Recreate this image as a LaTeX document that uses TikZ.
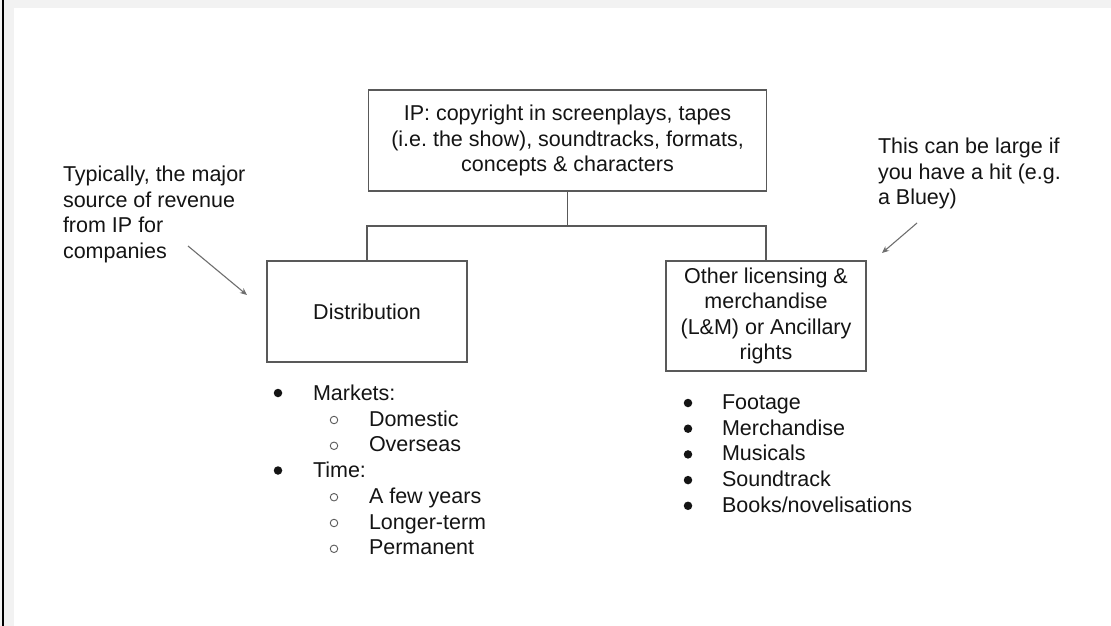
\documentclass[tikz,border=0pt]{standalone}
\usepackage{fontspec}
\setmainfont{Liberation Sans}
\usetikzlibrary{arrows.meta}
\definecolor{ink}{HTML}{141414}
\definecolor{edge}{HTML}{595959}
\definecolor{arrowgray}{HTML}{6E6E6E}
\definecolor{band}{HTML}{F2F2F2}
\frenchspacing
\begin{document}
\begin{tikzpicture}[x=1pt,y=-1pt,
  txt/.style={inner sep=0pt, outer sep=0pt, font=\frenchspacing\fontsize{21.5}{25.5}\selectfont, text=ink},
  boxnode/.style={txt, draw=edge, line width=1.3pt, align=center},
  link/.style={draw=edge, line width=1.3pt},
  note/.style={txt, align=left, anchor=north west},
  pointer/.style={draw=arrowgray, line width=1.1pt, -{Stealth[length=7pt,width=6pt]}},
  item/.style={txt, anchor=base west},
  dot/.style={circle, fill=ink, inner sep=0pt, minimum size=8.5pt},
  ring/.style={circle, draw=ink!70, line width=0.9pt, inner sep=0pt, minimum size=7.5pt}]
\useasboundingbox (0,0) rectangle (1111,626);
\fill[white] (0,0) rectangle (1111,626);
% frame bands
\fill[band] (0,0) rectangle (1111,8);
\fill[band] (0,0) rectangle (14,626);
\fill[black] (2,0) rectangle (4,626);

% boxes
\node[boxnode, minimum width=398pt, minimum height=101pt] (ip) at (567.5,140.5)
  {IP: copyright in screenplays, tapes\\(i.e. the show), soundtracks, formats,\\concepts \& characters};
\node[boxnode, minimum width=200pt, minimum height=101pt] (dist) at (367,311.5) {Distribution};
\node[boxnode, minimum width=200pt, minimum height=110pt] (lm) at (766,316)
  {Other licensing \&\\merchandise\\(L\&M) or Ancillary\\rights};

% tree connector
\coordinate (mid) at (567.5,226);
\draw[link] (ip.south) -- (mid);
\draw[link] (mid) -| (dist.north);
\draw[link] (mid) -| (lm.north);

% annotations
\node[note] (leftnote) at (63,166.3) {Typically, the major\\source of revenue\\from IP for\\companies};
\node[note] (rightnote) at (878,138.3) {This can be large if\\you have a hit (e.g.\\a Bluey)};
\coordinate (la) at (188,246);
\coordinate (lb) at (247,295);
\coordinate (ra) at (917,223);
\coordinate (rb) at (882,253);
\draw[pointer] (la) -- (lb);
\draw[pointer] (ra) -- (rb);

% left list
\node[dot] (d1) at (278,393) {};
\node[item] (t1) at (313,400) {Markets:};
\node[ring] (c1) at (334,420) {};
\node[item] (t2) at (369,426) {Domestic};
\node[ring] (c2) at (334,445.8) {};
\node[item] (t3) at (369,451.8) {Overseas};
\node[dot] (d2) at (278,470.5) {};
\node[item] (t4) at (313,477.5) {Time:};
\node[ring] (c3) at (334,497.2) {};
\node[item] (t5) at (369,503.2) {A few years};
\node[ring] (c4) at (334,523) {};
\node[item] (t6) at (369,529) {Longer-term};
\node[ring] (c5) at (334,548.8) {};
\node[item] (t7) at (369,554.8) {Permanent};

% right list
\node[dot] (e1) at (688,403) {};
\node[item] (u1) at (722,409.5) {Footage};
\node[dot] (e2) at (688,428.7) {};
\node[item] (u2) at (722,435.2) {Merchandise};
\node[dot] (e3) at (688,454.4) {};
\node[item] (u3) at (722,460.9) {Musicals};
\node[dot] (e4) at (688,480.1) {};
\node[item] (u4) at (722,486.6) {Soundtrack};
\node[dot] (e5) at (688,505.8) {};
\node[item] (u5) at (722,512.3) {Books/novelisations};
\end{tikzpicture}
\end{document}
